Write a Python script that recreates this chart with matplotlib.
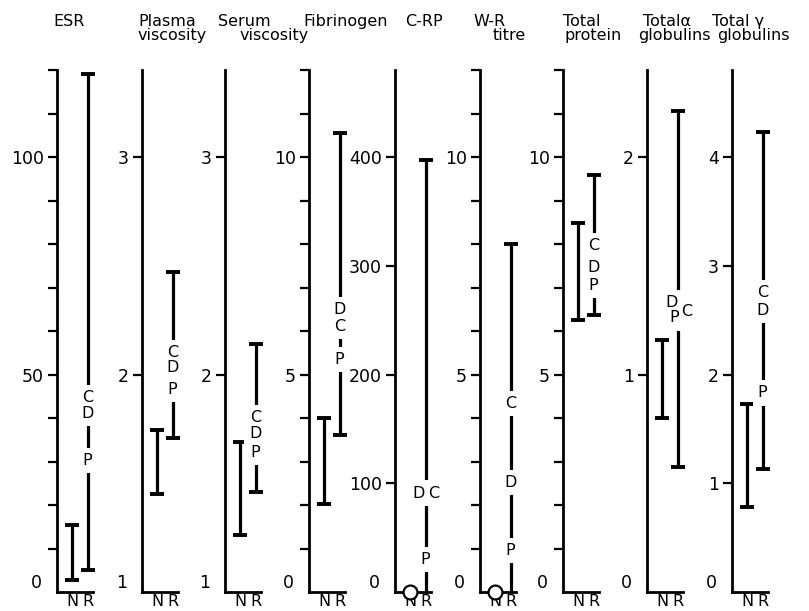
"""
Range chart: normal (N) and rheumatoid (R) ranges for nine blood tests.
"""

##################### IMPORTS #####################

import matplotlib
matplotlib.use('Agg')
import matplotlib.pyplot as plt
from matplotlib.transforms import offset_copy
import numpy as np

###################### DATA #######################

titles = [('ESR', ''), ('Plasma', 'viscosity'), ('Serum', 'viscosity'),
          ('Fibrinogen', ''), ('C-RP', ''), ('W-R', 'titre'),
          ('Total', 'protein'), ('Total\u03b1', 'globulins'), ('Total \u03b3', 'globulins')]

y_bottom = [0, 1, 1, 0, 0, 0, 0, 0, 0]              # lowest value of each scale
y_top = [120, 3.4, 3.4, 12, 480, 12, 12, 2.4, 4.8]   # highest value of each scale
bottom_label = ['0', '1', '1', '0', '0', '0', '0', '0', '0']
major_ticks = [[50, 100], [2, 3], [2, 3], [5, 10], [100, 200, 300, 400],
               [5, 10], [5, 10], [1, 2], [1, 2, 3, 4]]
minor_step = [10, None, None, 1, None, 1, 1, None, None]

# normal range (low == high means a single point)
n_low = [2.8, 1.45, 1.26, 2.02, 0, 0, 6.25, 0.80, 0.78]
n_high = [15.4, 1.745, 1.69, 4.0, 0, 0, 8.48, 1.16, 1.73]
# rheumatoid range
r_low = [5.1, 1.71, 1.46, 3.61, 0, 0, 6.37, 0.575, 1.13]
r_high = [119, 2.47, 2.14, 10.55, 397, 8.0, 9.59, 2.21, 4.23]

# group means marked on the R range
c_val = [44.8, 2.10, 1.80, 6.1, 91, 4.33, 7.96, 1.29, 2.75]
d_val = [41.1, 2.03, 1.73, 6.5, 91, 2.52, 7.45, 1.33, 2.59]
p_val = [30.3, 1.93, 1.64, 5.35, 30, 0.96, 7.04, 1.26, 1.83]

#################### LAYOUT #######################

W, H = 809, 611
axis_x = [57, 142, 225, 309, 395, 480, 563, 647, 732]   # pixel x of each vertical axis
title_x = [(53, 0), (138, 138), (218, 240), (303, 0), (405, 0),
           (473, 493), (563, 565), (643, 638), (712, 717)]
letter_dx = {(4, 'D'): -7, (4, 'C'): 8, (7, 'D'): -6, (7, 'P'): -3, (7, 'C'): 9}  # pixel nudges
ax_bottom, ax_height, ax_width = 592, 522, 36

fig = plt.figure(figsize=(W / 100, H / 100), dpi=100)
fig.patch.set_facecolor('white')

for i in range(9):
    ax = fig.add_axes([axis_x[i] / W, (H - ax_bottom) / H, ax_width / W, ax_height / H])
    ax.patch.set_visible(False)
    ax.set_xlim(0, 2.35)
    ax.set_ylim(y_bottom[i], y_top[i])
    for s in ['top', 'right']:
        ax.spines[s].set_visible(False)
    for s in ['left', 'bottom']:
        ax.spines[s].set_linewidth(2)

    # y ticks
    ax.set_yticks(major_ticks[i], [str(t) for t in major_ticks[i]])
    if minor_step[i]:
        minors = [v for v in np.arange(minor_step[i], y_top[i] + minor_step[i] / 2, minor_step[i])
                  if not np.isclose(v, major_ticks[i]).any()]
        ax.set_yticks(minors, minor=True)
    ax.tick_params(axis='y', which='both', direction='out', length=6.5, width=1.6,
                   pad=3, labelsize=12.5)
    ax.annotate(bottom_label[i], xy=(0, y_bottom[i]), xycoords=('axes fraction', 'data'),
                xytext=(-15, 9), textcoords='offset pixels', ha='right', va='center',
                fontsize=12.5, annotation_clip=False)

    # x labels N R
    ax.set_xticks([1, 2], ['N', 'R'])
    ax.tick_params(axis='x', length=0, pad=1.5, labelsize=11.5)

    # ranges
    for x, lo, hi in [(1, n_low[i], n_high[i]), (2, r_low[i], r_high[i])]:
        if lo == hi:
            ax.plot(x, lo, marker='o', mfc='white', mec='black', ms=10, mew=1.6,
                    clip_on=False, zorder=4)
            continue
        ax.vlines(x, lo, hi, color='black', lw=2.3, zorder=3)
        caps = [v for v in (lo, hi) if v > y_bottom[i]]
        ax.plot([x] * len(caps), caps, ls='none', marker='_', ms=10, mew=2.8,
                color='black', clip_on=False, zorder=3)

    # group letters: white gap in the bar first, then the letter on top
    for letter, val in [('C', c_val[i]), ('D', d_val[i]), ('P', p_val[i])]:
        tr = offset_copy(ax.transData, fig=fig, x=letter_dx.get((i, letter), 0), y=0, units='dots')
        ax.text(2, val, letter, transform=tr, ha='center', va='center', fontsize=11.5,
                color='white', zorder=4,
                bbox=dict(boxstyle='square,pad=0.32', fc='white', ec='none'))
        ax.text(2, val, letter, transform=tr, ha='center', va='center', fontsize=11.5,
                zorder=5)

    # titles
    line1, line2 = titles[i]
    fig.text(title_x[i][0] / W, 1 - 26 / H, line1, ha='left', va='baseline', fontsize=11.5)
    if line2:
        fig.text(title_x[i][1] / W, 1 - 40 / H, line2, ha='left', va='baseline', fontsize=11.5)

fig.savefig('out.png', dpi=100)
